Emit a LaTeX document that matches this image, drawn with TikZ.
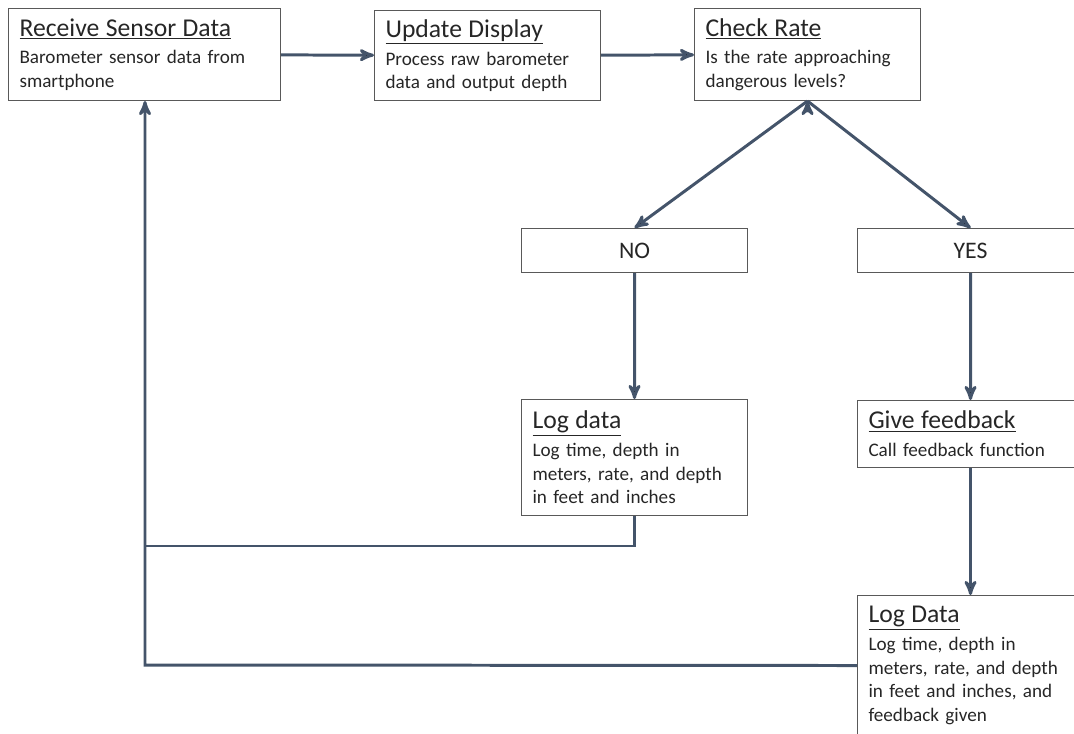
\documentclass[tikz,border=0pt]{standalone}
\usepackage{fontspec}
\setmainfont{Carlito}
\usepackage{tikz}
\usetikzlibrary{arrows}

\definecolor{flowline}{HTML}{44546A}
\definecolor{boxline}{HTML}{595959}
\definecolor{boxtext}{HTML}{262626}

\newcommand{\boxtitle}[1]{{\fontsize{14.6}{17}\selectfont\underline{#1}}\\[2.5pt]}

\begin{document}
\begin{tikzpicture}[x=0.02cm,y=-0.02cm,>=stealth',
		flow/.style={->,draw=flowline,line width=1.7pt},
		proc node/.style={rectangle,draw=boxline,line width=0.6pt,anchor=north west,
			align=left,inner xsep=0.22cm,inner ysep=2pt,text=boxtext,
			font=\fontsize{10.9}{13.4}\selectfont},
		choice node/.style={rectangle,draw=boxline,line width=0.6pt,anchor=north west,
			minimum width=4.52cm,minimum height=0.88cm,text=boxtext,
			font=\fontsize{13.5}{15}\selectfont}]
		
		\useasboundingbox (0,0) rectangle (1074,733);
		
		% top row
		\node[proc node,text width=5.0cm,minimum height=1.84cm] (recv) at (8,8)
			{\boxtitle{Receive Sensor Data}Barometer sensor data from\\smartphone};
		\node[proc node,text width=4.08cm,minimum height=1.8cm] (upd) at (374,10)
			{\boxtitle{Update Display}Process raw barometer\\data and output depth};
		\node[proc node,text width=4.08cm,minimum height=1.84cm] (chk) at (694,8)
			{\boxtitle{Check Rate}Is the rate approaching\\dangerous levels?};
		
		% decision
		\node[choice node] (no) at (521,228) {NO};
		\node[choice node] (yes) at (857,228) {YES};
		
		% lower boxes
		\node[proc node,text width=4.08cm,minimum height=2.32cm] (logno) at (521,399)
			{\boxtitle{Log data}Log time, depth in\\meters, rate, and depth\\in feet and inches};
		\node[proc node,text width=4.08cm,minimum height=1.34cm] (fb) at (857,400)
			{\boxtitle{Give feedback}Call feedback function};
		\node[proc node,text width=4.08cm,minimum height=2.8cm] (logyes) at (857,595)
			{\boxtitle{Log Data}Log time, depth in\\meters, rate, and depth\\in feet and inches, and\\feedback given};
		
		\coordinate (back) at (145,665);
		\coordinate (join) at (145,546);
		
		\path[flow]
		(recv) edge (upd)
		(upd) edge (chk)
		(chk.south) edge (no.north)
		(chk.south) edge (yes.north)
		(no) edge (logno)
		(yes) edge (fb)
		(fb) edge (logyes);
		
		% loop back to the start
		\draw[flowline,line width=1.7pt] (logno.south) |- (join);
		\draw[flow] (logyes.west) -- (back) -- (recv.south -| back);
		
		\end{tikzpicture}
\end{document}
